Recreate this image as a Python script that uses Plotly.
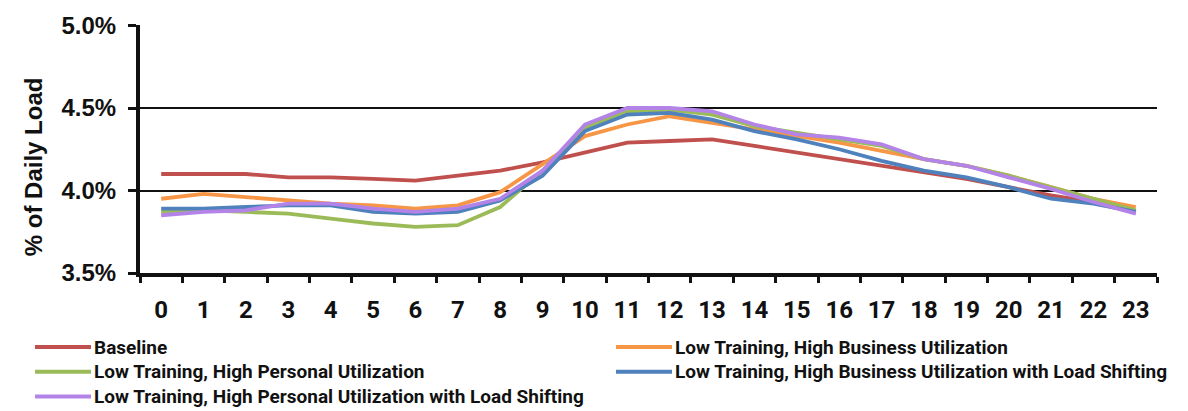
import plotly.graph_objects as go

# Hourly share of daily load (%) for each scenario
hours = [str(h) for h in range(24)]

baseline = [4.10, 4.10, 4.10, 4.08, 4.08, 4.07, 4.06, 4.09, 4.12, 4.17, 4.23, 4.29,
            4.30, 4.31, 4.27, 4.23, 4.19, 4.15, 4.11, 4.07, 4.02, 3.97, 3.93, 3.87]
low_business = [3.95, 3.98, 3.96, 3.94, 3.92, 3.91, 3.89, 3.91, 3.99, 4.16, 4.33, 4.40,
                4.45, 4.41, 4.37, 4.33, 4.29, 4.24, 4.19, 4.15, 4.09, 4.02, 3.95, 3.90]
low_personal = [3.87, 3.88, 3.87, 3.86, 3.83, 3.80, 3.78, 3.79, 3.90, 4.12, 4.38, 4.48,
                4.49, 4.46, 4.39, 4.35, 4.31, 4.27, 4.19, 4.15, 4.09, 4.02, 3.95, 3.88]
low_business_ls = [3.89, 3.89, 3.90, 3.91, 3.91, 3.87, 3.86, 3.87, 3.94, 4.09, 4.36, 4.46,
                   4.47, 4.43, 4.36, 4.31, 4.25, 4.18, 4.12, 4.08, 4.02, 3.95, 3.92, 3.87]
low_personal_ls = [3.85, 3.87, 3.88, 3.92, 3.92, 3.89, 3.87, 3.89, 3.95, 4.12, 4.40, 4.50,
                   4.50, 4.48, 4.40, 4.34, 4.32, 4.28, 4.19, 4.15, 4.08, 4.01, 3.93, 3.86]

series_names = [
    "Baseline",
    "Low Training, High Business Utilization",
    "Low Training, High Personal Utilization",
    "Low Training, High Business Utilization with Load Shifting",
    "Low Training, High Personal Utilization with Load Shifting",
]
series_values = [baseline, low_business, low_personal, low_business_ls, low_personal_ls]
series_colors = ["#C0504D", "#F79646", "#9BBB59", "#4F81BD", "#B383E8"]

y_ticks = [3.5, 4.0, 4.5, 5.0]
y_tick_labels = ["3.5%", "4.0%", "4.5%", "5.0%"]

W, H = 1188, 411
M_L, M_R, M_T, M_B = 140, 31, 22, 138
plot_w = W - M_L - M_R
plot_h = H - M_T - M_B

fig = go.Figure()
for name, vals, col in zip(series_names, series_values, series_colors):
    fig.add_trace(go.Scatter(
        x=hours, y=vals, name=name, mode="lines",
        line=dict(color=col, width=3.8),
        showlegend=False,
    ))

# Legend drawn as short line swatches with labels, two columns
legend_slots = [(35, 348), (616, 348), (35, 373), (616, 373), (35, 398)]
swatch_len = 56


def px_to_paper_x(px):
    return (px - M_L) / plot_w


def px_to_paper_y(py):
    return (H - M_B - py) / plot_h


for (lx, ly), name, col in zip(legend_slots, series_names, series_colors):
    fig.add_shape(
        type="line", xref="paper", yref="paper",
        x0=px_to_paper_x(lx), x1=px_to_paper_x(lx + swatch_len),
        y0=px_to_paper_y(ly), y1=px_to_paper_y(ly),
        line=dict(color=col, width=4),
    )
    fig.add_annotation(
        xref="paper", yref="paper",
        x=px_to_paper_x(lx + swatch_len + 1), y=px_to_paper_y(ly),
        xanchor="left", yanchor="middle", showarrow=False,
        text=name,
        font=dict(family="Roboto", size=19, color="#111111", weight="bold"),
    )

# Y-axis title
fig.add_annotation(
    xref="paper", yref="paper",
    x=px_to_paper_x(33), y=px_to_paper_y(166),
    xanchor="center", yanchor="middle", showarrow=False,
    text="% of Daily Load", textangle=-90,
    font=dict(family="Liberation Sans", size=24, color="#111111", weight="bold"),
)

fig.update_layout(
    width=W, height=H,
    margin=dict(l=M_L, r=M_R, t=M_T, b=M_B),
    paper_bgcolor="white", plot_bgcolor="white",
    showlegend=False,
)

fig.update_xaxes(
    type="category",
    tickson="boundaries",
    ticks="outside", ticklen=6, tickwidth=3, tickcolor="#111111",
    showline=True, linecolor="#111111", linewidth=4,
    showgrid=False, zeroline=False,
    tickfont=dict(family="Roboto", size=24, color="#111111", weight="bold"),
    ticklabelstandoff=12,
    range=[-0.5, 23.5],
)

fig.update_yaxes(
    range=[3.5, 5.003],
    tickvals=y_ticks, ticktext=y_tick_labels,
    ticks="outside", ticklen=8, tickwidth=3, tickcolor="#111111",
    showline=True, linecolor="#111111", linewidth=4,
    showgrid=True, gridcolor="#111111", gridwidth=2,
    zeroline=False,
    tickfont=dict(family="Liberation Sans", size=24, color="#111111", weight="bold"),
    ticklabelstandoff=7,
)

fig.write_html("out.html")
